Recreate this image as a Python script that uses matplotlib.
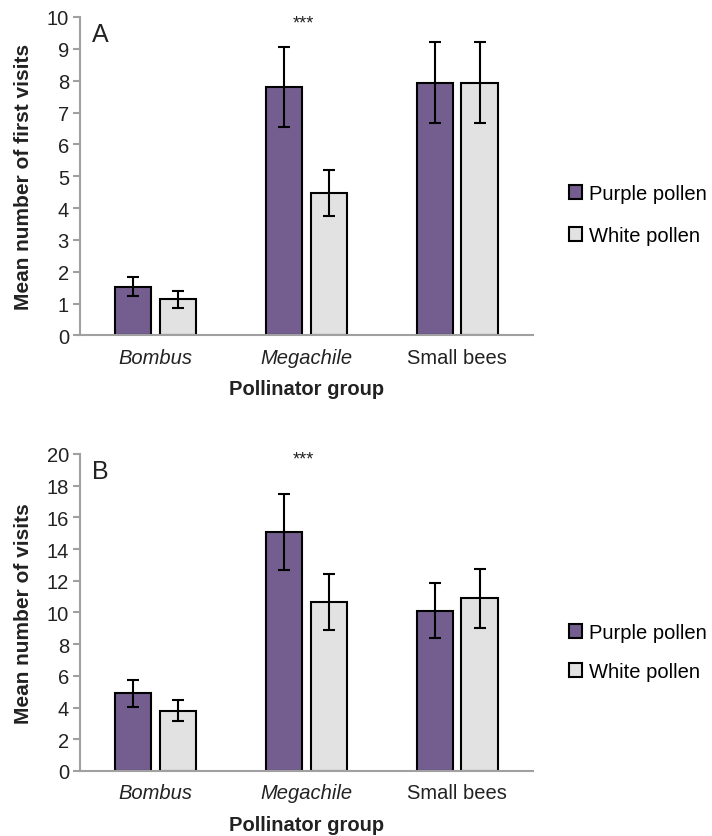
import numpy as np
import matplotlib
matplotlib.use("Agg")
import matplotlib.pyplot as plt
from matplotlib.patches import Patch

plt.rcParams['font.family'] = ['Liberation Sans', 'DejaVu Sans']

# data
groups = ["Bombus", "Megachile", "Small bees"]
group_italic = [True, True, False]

first_purple = [1.53, 7.80, 7.93]
first_purple_err = [0.30, 1.25, 1.27]
first_white = [1.13, 4.47, 7.93]
first_white_err = [0.26, 0.73, 1.27]

visits_purple = [4.90, 15.05, 10.10]
visits_purple_err = [0.85, 2.40, 1.73]
visits_white = [3.80, 10.65, 10.90]
visits_white_err = [0.67, 1.75, 1.85]

purple = "#745e8f"
white = "#e1e2e1"
spine_grey = "#a0a0a0"

fig = plt.figure(figsize=(7.12, 8.37), dpi=100)
axA = fig.add_axes([0.1124, 0.598, 0.636, 0.3805])
axB = fig.add_axes([0.1124, 0.0777, 0.636, 0.3787])

x = np.arange(len(groups)) + 0.5
w = 0.24
off = 0.147


def draw_panel(ax, pv, pe, wv, we, ymax, step, ylabel, letter, letter_y, star_y, leg_y, leg_space):
    ax.bar(x - off, pv, w, color=purple, edgecolor="black", linewidth=1.5,
           yerr=pe, capsize=4.5, error_kw=dict(elinewidth=1.5, capthick=1.5, ecolor="black"),
           label="Purple pollen", zorder=2)
    ax.bar(x + off, wv, w, color=white, edgecolor="black", linewidth=1.5,
           yerr=we, capsize=4.5, error_kw=dict(elinewidth=1.5, capthick=1.5, ecolor="black"),
           label="White pollen", zorder=2)
    ax.set_xlim(0, 3)
    ax.set_ylim(0, ymax)
    ax.set_yticks(np.arange(0, ymax + step, step))
    ax.set_xticks(x)
    ax.set_xticklabels(groups)
    for lab, it in zip(ax.get_xticklabels(), group_italic):
        if it:
            lab.set_fontstyle("italic")
    ax.tick_params(axis="x", length=0, labelsize=14.5, pad=9, colors="#222222")
    ax.tick_params(axis="y", length=5, width=1.5, color=spine_grey, labelsize=14.5, pad=3,
                   labelcolor="#222222")
    for s in ["top", "right"]:
        ax.spines[s].set_visible(False)
    for s in ["left", "bottom"]:
        ax.spines[s].set_color(spine_grey)
        ax.spines[s].set_linewidth(1.5)
    ax.set_ylabel(ylabel, fontsize=15, fontweight="bold", color="#222222")
    ax.yaxis.set_label_coords(-0.104, 0.5)
    ax.set_xlabel("Pollinator group", fontsize=14.5, fontweight="bold", color="#222222", labelpad=9)
    ax.text(0.08, letter_y, letter, fontsize=18, va="center", ha="left", color="#222222")
    ax.text(x[1] - 0.02, star_y, "***", fontsize=13, ha="center", va="center", color="#222222")
    handles = [Patch(facecolor=purple, edgecolor="black", linewidth=1.5),
               Patch(facecolor=white, edgecolor="black", linewidth=1.5)]
    ax.legend(handles, ["Purple pollen", "White pollen"], loc="center left",
              bbox_to_anchor=(1.079, leg_y), frameon=False, fontsize=14.5,
              handlelength=0.65, handleheight=0.65, handletextpad=0.35,
              labelspacing=leg_space, borderpad=0, borderaxespad=0)


draw_panel(axA, first_purple, first_purple_err, first_white, first_white_err,
           10, 1, "Mean number of first visits", "A", 9.47, 9.8, 0.38, 1.15)
draw_panel(axB, visits_purple, visits_purple_err, visits_white, visits_white_err,
           20, 2, "Mean number of visits", "B", 18.9, 19.7, 0.375, 1.0)

fig.savefig("out.png", dpi=100)
